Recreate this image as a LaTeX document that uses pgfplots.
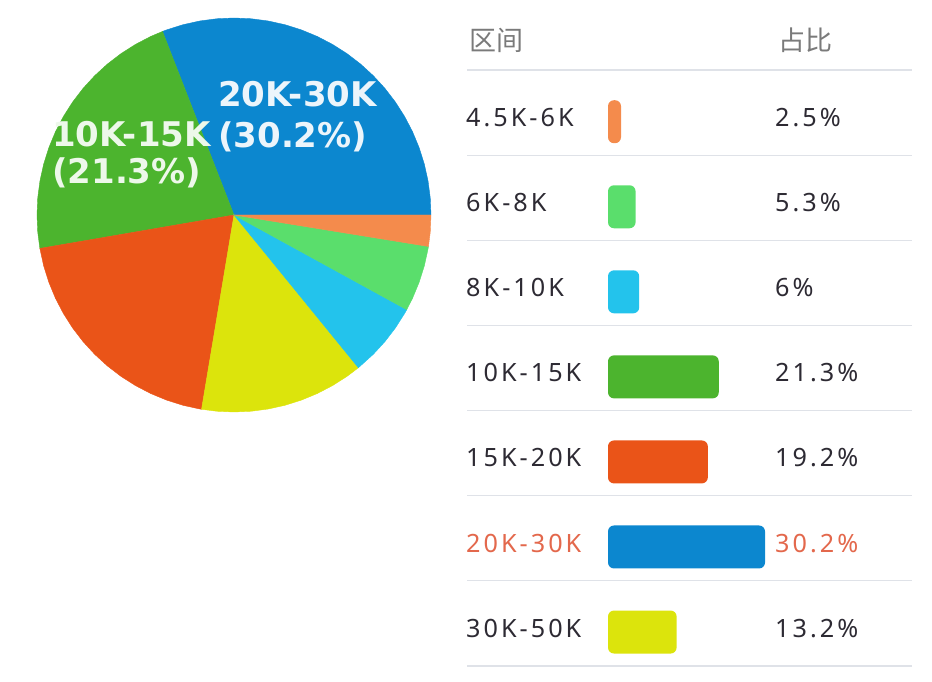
\documentclass[border=0pt]{standalone}
\usepackage{fontspec}
\setmainfont{Noto Sans}[LetterSpace=12]
\newfontfamily\cjk{Noto Sans CJK SC}
\newfontfamily\pief{DejaVu Sans}
\usepackage{pgfplots}
\pgfplotsset{compat=1.18}
\usepgfplotslibrary{polar}
\definecolor{orangeS}{HTML}{F48B4C}
\definecolor{lgreenS}{HTML}{5ADE6C}
\definecolor{cyanS}{HTML}{23C3EC}
\definecolor{greenS}{HTML}{4CB42E}
\definecolor{redS}{HTML}{EA5418}
\definecolor{blueS}{HTML}{0C87CF}
\definecolor{yellowS}{HTML}{DCE40C}
\definecolor{sepS}{HTML}{DFE2E8}
\definecolor{hdrS}{HTML}{7A7A7A}
\definecolor{txtS}{HTML}{2D2A33}
\definecolor{hiS}{HTML}{E3684C}
\pgfplotsset{
  slice/.style={fill=#1, draw=#1, line width=0.4pt},
  hbar/.style={xbar, bar width=43pt, bar shift=0pt, fill=#1, draw=none, rounded corners=6pt},
}
\newcommand{\tf}{\fontsize{25.2}{30}\selectfont}
\begin{document}
\begin{tikzpicture}
\useasboundingbox (0pt,0pt) rectangle (932pt,682pt);
% ---------- pie (angles: cumulative share of 97.7, in degrees) ----------
\begin{polaraxis}[at={(234pt,467pt)}, anchor=center, scale only axis,
  width=394pt, height=394pt, ymin=0, ymax=1, hide axis, clip=false]
% 20K-30K 30.2%
\addplot[slice=blueS] coordinates {(0,0) (0,1) (5,1) (10,1) (15,1) (20,1) (25,1) (30,1) (35,1) (40,1) (45,1) (50,1) (55,1) (60,1) (65,1) (70,1) (75,1) (80,1) (85,1) (90,1) (95,1) (100,1) (105,1) (110,1) (111.28,1)} -- cycle;
% 10K-15K 21.3%
\addplot[slice=greenS] coordinates {(0,0) (111.28,1) (115,1) (120,1) (125,1) (130,1) (135,1) (140,1) (145,1) (150,1) (155,1) (160,1) (165,1) (170,1) (175,1) (180,1) (185,1) (189.77,1)} -- cycle;
% 15K-20K 19.2%
\addplot[slice=redS] coordinates {(0,0) (189.77,1) (195,1) (200,1) (205,1) (210,1) (215,1) (220,1) (225,1) (230,1) (235,1) (240,1) (245,1) (250,1) (255,1) (260,1) (260.52,1)} -- cycle;
% 30K-50K 13.2%
\addplot[slice=yellowS] coordinates {(0,0) (260.52,1) (265,1) (270,1) (275,1) (280,1) (285,1) (290,1) (295,1) (300,1) (305,1) (309.16,1)} -- cycle;
% 8K-10K 6%
\addplot[slice=cyanS] coordinates {(0,0) (309.16,1) (315,1) (320,1) (325,1) (330,1) (331.27,1)} -- cycle;
% 6K-8K 5.3%
\addplot[slice=lgreenS] coordinates {(0,0) (331.27,1) (335,1) (340,1) (345,1) (350,1) (350.80,1)} -- cycle;
% 4.5K-6K 2.5%
\addplot[slice=orangeS] coordinates {(0,0) (350.80,1) (355,1) (360,1)} -- cycle;
\end{polaraxis}
% ---------- bars ----------
\begin{axis}[at={(608pt,7.45pt)}, anchor=south west, scale only axis,
  width=208pt, height=595.35pt, xmin=0, xmax=40, ymin=-0.5, ymax=6.5,
  y dir=reverse, hide axis, clip=false]
\addplot[hbar=orangeS] coordinates {(2.5,0)};
\addplot[hbar=lgreenS] coordinates {(5.3,1)};
\addplot[hbar=cyanS] coordinates {(6,2)};
\addplot[hbar=greenS] coordinates {(21.3,3)};
\addplot[hbar=redS] coordinates {(19.2,4)};
\addplot[hbar=blueS] coordinates {(30.2,5)};
\addplot[hbar=yellowS] coordinates {(13.2,6)};
\end{axis}
% ---------- canvas: table text, rules, pie labels ----------
\begin{axis}[at={(0pt,0pt)}, anchor=south west, scale only axis,
  width=932pt, height=682pt, xmin=0, xmax=932, ymin=0, ymax=682,
  y dir=reverse, hide axis, clip=false]
\draw[sepS, line width=1.2pt] (axis cs:467,70) -- (axis cs:912,70);
\draw[sepS, line width=1.2pt] (axis cs:467,155.5) -- (axis cs:912,155.5);
\draw[sepS, line width=1.2pt] (axis cs:467,240.5) -- (axis cs:912,240.5);
\draw[sepS, line width=1.2pt] (axis cs:467,325.5) -- (axis cs:912,325.5);
\draw[sepS, line width=1.2pt] (axis cs:467,410.7) -- (axis cs:912,410.7);
\draw[sepS, line width=1.2pt] (axis cs:467,495.7) -- (axis cs:912,495.7);
\draw[sepS, line width=1.2pt] (axis cs:467,580.7) -- (axis cs:912,580.7);
\draw[sepS, line width=1.2pt] (axis cs:467,666) -- (axis cs:912,666);
\node[anchor=center, text=hdrS, inner sep=0pt] at (axis cs:496,40) {\cjk\fontsize{27}{30}\selectfont 区间};
\node[anchor=center, text=hdrS, inner sep=0pt] at (axis cs:805.5,40) {\cjk\fontsize{27}{30}\selectfont 占比};
\node[anchor=base west, text=txtS, inner sep=0pt] at (axis cs:466,126.7) {\tf 4.5K-6K};
\node[anchor=base west, text=txtS, inner sep=0pt] at (axis cs:466,211.8) {\tf 6K-8K};
\node[anchor=base west, text=txtS, inner sep=0pt] at (axis cs:466,296.8) {\tf 8K-10K};
\node[anchor=base west, text=txtS, inner sep=0pt] at (axis cs:466,381.9) {\tf 10K-15K};
\node[anchor=base west, text=txtS, inner sep=0pt] at (axis cs:466,466.9) {\tf 15K-20K};
\node[anchor=base west, text=hiS, inner sep=0pt] at (axis cs:466,552) {\tf 20K-30K};
\node[anchor=base west, text=txtS, inner sep=0pt] at (axis cs:466,637) {\tf 30K-50K};
\node[anchor=base west, text=txtS, inner sep=0pt] at (axis cs:775,126.7) {\tf 2.5\%};
\node[anchor=base west, text=txtS, inner sep=0pt] at (axis cs:775,211.8) {\tf 5.3\%};
\node[anchor=base west, text=txtS, inner sep=0pt] at (axis cs:775,296.8) {\tf 6\%};
\node[anchor=base west, text=txtS, inner sep=0pt] at (axis cs:775,381.9) {\tf 21.3\%};
\node[anchor=base west, text=txtS, inner sep=0pt] at (axis cs:775,466.9) {\tf 19.2\%};
\node[anchor=base west, text=hiS, inner sep=0pt] at (axis cs:775,552) {\tf 30.2\%};
\node[anchor=base west, text=txtS, inner sep=0pt] at (axis cs:775,637) {\tf 13.2\%};
\node[anchor=base west, text={white!92!blueS}, inner sep=0pt] at (axis cs:218,106.7) {\pief\bfseries\fontsize{34}{40}\selectfont 20K-30K};
\node[anchor=base west, text={white!92!blueS}, inner sep=0pt] at (axis cs:218,148) {\pief\bfseries\fontsize{34}{40}\selectfont (30.2\%)};
\node[anchor=base west, text={white!90!greenS}, inner sep=0pt] at (axis cs:52,147) {\pief\bfseries\fontsize{34}{40}\selectfont 10K-15K};
\node[anchor=base west, text={white!90!greenS}, inner sep=0pt] at (axis cs:52,183.5) {\pief\bfseries\fontsize{34}{40}\selectfont (21.3\%)};
\end{axis}
\end{tikzpicture}
\end{document}
